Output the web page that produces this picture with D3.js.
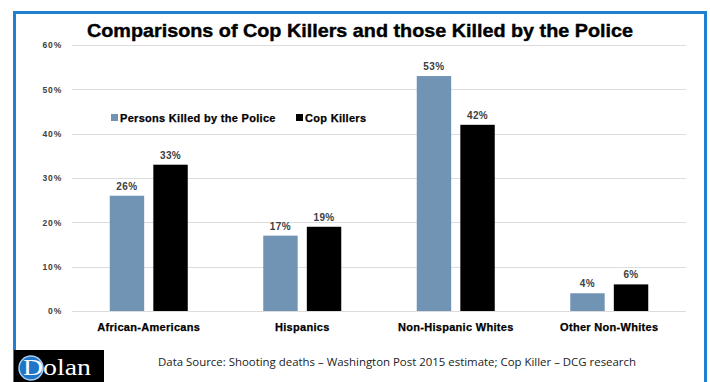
<!DOCTYPE html>
<html>
<head>
<meta charset="utf-8">
<script src="https://cdn.jsdelivr.net/npm/d3@7"></script>
<style>
  html, body { margin: 0; padding: 0; background: #fff; }
  svg { display: block; }
</style>
</head>
<body>
<svg id="chart" width="710" height="382"></svg>
<script>
// Groups, series and values (percent)
const categories = ["African-Americans", "Hispanics", "Non-Hispanic Whites", "Other Non-Whites"];
const seriesNames = ["Persons Killed by the Police", "Cop Killers"];
const killedByPolice = [26, 17, 53, 4];
const copKillers = [33, 19, 42, 6];
const yTicks = [0, 10, 20, 30, 40, 50, 60];
const seriesColors = ["#7294b4", "#000000"];

const svg = d3.select("#chart");
const FONT = "Liberation Sans, Arial, sans-serif";

// Blue frame
svg.append("rect")
  .attr("x", 14.5).attr("y", 12.5)
  .attr("width", 691).attr("height", 400)
  .attr("fill", "none").attr("stroke", "#1f7fd0").attr("stroke-width", 3);

// Title
svg.append("text")
  .attr("x", 360).attr("y", 37)
  .attr("text-anchor", "middle")
  .attr("font-family", FONT)
  .attr("font-weight", "bold")
  .attr("font-size", 18.5)
  .attr("textLength", 546).attr("lengthAdjust", "spacingAndGlyphs")
  .attr("fill", "#000")
  .attr("stroke", "#000").attr("stroke-width", 0.4)
  .text("Comparisons of Cop Killers and those Killed by the Police");

const plotLeft = 72, plotRight = 686;
const y = d3.scaleLinear().domain([0, 60]).range([311, 45]);
const x = d3.scaleBand().domain(categories).range([plotLeft, plotRight]).paddingInner(0).paddingOuter(0);
const xSub = d3.scaleBand().domain(seriesNames).range([-39, 39]).paddingInner(0.21);

// Gridlines
svg.append("g")
  .selectAll("line")
  .data(yTicks)
  .join("line")
  .attr("x1", plotLeft).attr("x2", plotRight)
  .attr("y1", d => Math.round(y(d)) + 0.5).attr("y2", d => Math.round(y(d)) + 0.5)
  .attr("stroke", "#dcdcdc").attr("stroke-width", 1);

// Y axis labels
const yAxis = d3.axisLeft(y).tickValues(yTicks).tickFormat(d => d + "%").tickSize(0).tickPadding(0);
const yg = svg.append("g").attr("transform", "translate(62,0)").call(yAxis);
yg.select(".domain").remove();
yg.selectAll("text")
  .attr("font-family", FONT)
  .attr("font-weight", "bold")
  .attr("font-size", 8.5)
  .attr("letter-spacing", 0.8)
  .attr("fill", "#404040");

// Bars
const rows = categories.map((c, i) => ({ cat: c, values: [killedByPolice[i], copKillers[i]] }));
const groups = svg.append("g").selectAll("g")
  .data(rows).join("g")
  .attr("transform", d => `translate(${x(d.cat) + x.bandwidth() / 2},0)`);

groups.selectAll("rect")
  .data(d => d.values.map((v, j) => ({ s: seriesNames[j], v, j })))
  .join("rect")
  .attr("x", d => xSub(d.s))
  .attr("width", xSub.bandwidth())
  .attr("y", d => y(d.v))
  .attr("height", d => y(0) - y(d.v))
  .attr("fill", d => seriesColors[d.j]);

groups.selectAll("text.val")
  .data(d => d.values.map((v, j) => ({ s: seriesNames[j], v, j })))
  .join("text")
  .attr("class", "val")
  .attr("x", d => xSub(d.s) + xSub.bandwidth() / 2)
  .attr("y", d => y(d.v) - 6)
  .attr("text-anchor", "middle")
  .attr("font-family", FONT)
  .attr("font-weight", "bold")
  .attr("font-size", 10)
  .attr("letter-spacing", 0.4)
  .attr("fill", "#404040")
  .text(d => d.v + "%");

// Category axis
const xAxis = d3.axisBottom(x).tickSize(0).tickPadding(0);
const xg = svg.append("g").attr("transform", "translate(0,331)").call(xAxis);
xg.select(".domain").remove();
xg.selectAll("text")
  .attr("dy", 0)
  .attr("font-family", FONT)
  .attr("font-weight", "bold")
  .attr("font-size", 11)
  .attr("letter-spacing", 0.3)
  .attr("stroke", "#000").attr("stroke-width", 0.25)
  .attr("fill", "#000");

// Legend
const legendX = [111, 296];
const legend = svg.append("g").selectAll("g")
  .data(seriesNames).join("g")
  .attr("transform", (d, i) => `translate(${legendX[i]},114)`);
legend.append("rect")
  .attr("width", 7).attr("height", 7)
  .attr("fill", (d, i) => seriesColors[i]);
legend.append("text")
  .attr("x", 9).attr("y", 7.5)
  .attr("font-family", FONT)
  .attr("font-weight", "bold")
  .attr("font-size", 11)
  .attr("letter-spacing", 0.3)
  .attr("stroke", "#000").attr("stroke-width", 0.25)
  .attr("fill", "#000")
  .text(d => d);

// Source note
svg.append("text")
  .attr("x", 158).attr("y", 366)
  .attr("font-family", "Open Sans, Liberation Sans, sans-serif")
  .attr("font-size", 11)
  .attr("textLength", 478).attr("lengthAdjust", "spacingAndGlyphs")
  .attr("fill", "#222")
  .text("Data Source:  Shooting deaths \u2013 Washington Post 2015 estimate; Cop Killer \u2013 DCG research");

// Logo block
const logo = svg.append("g");
logo.append("rect").attr("x", 14).attr("y", 350).attr("width", 90).attr("height", 32).attr("fill", "#000");
logo.append("circle").attr("cx", 31).attr("cy", 368).attr("r", 12).attr("fill", "#1f76c8").attr("stroke", "#a6cdef").attr("stroke-width", 1.5);
logo.append("text")
  .attr("x", 23).attr("y", 375)
  .attr("font-family", "Liberation Serif, Times New Roman, serif")
  .attr("font-size", 24)
  .attr("textLength", 68).attr("lengthAdjust", "spacingAndGlyphs")
  .attr("fill", "#fff")
  .text("Dolan");
</script>
</body>
</html>
